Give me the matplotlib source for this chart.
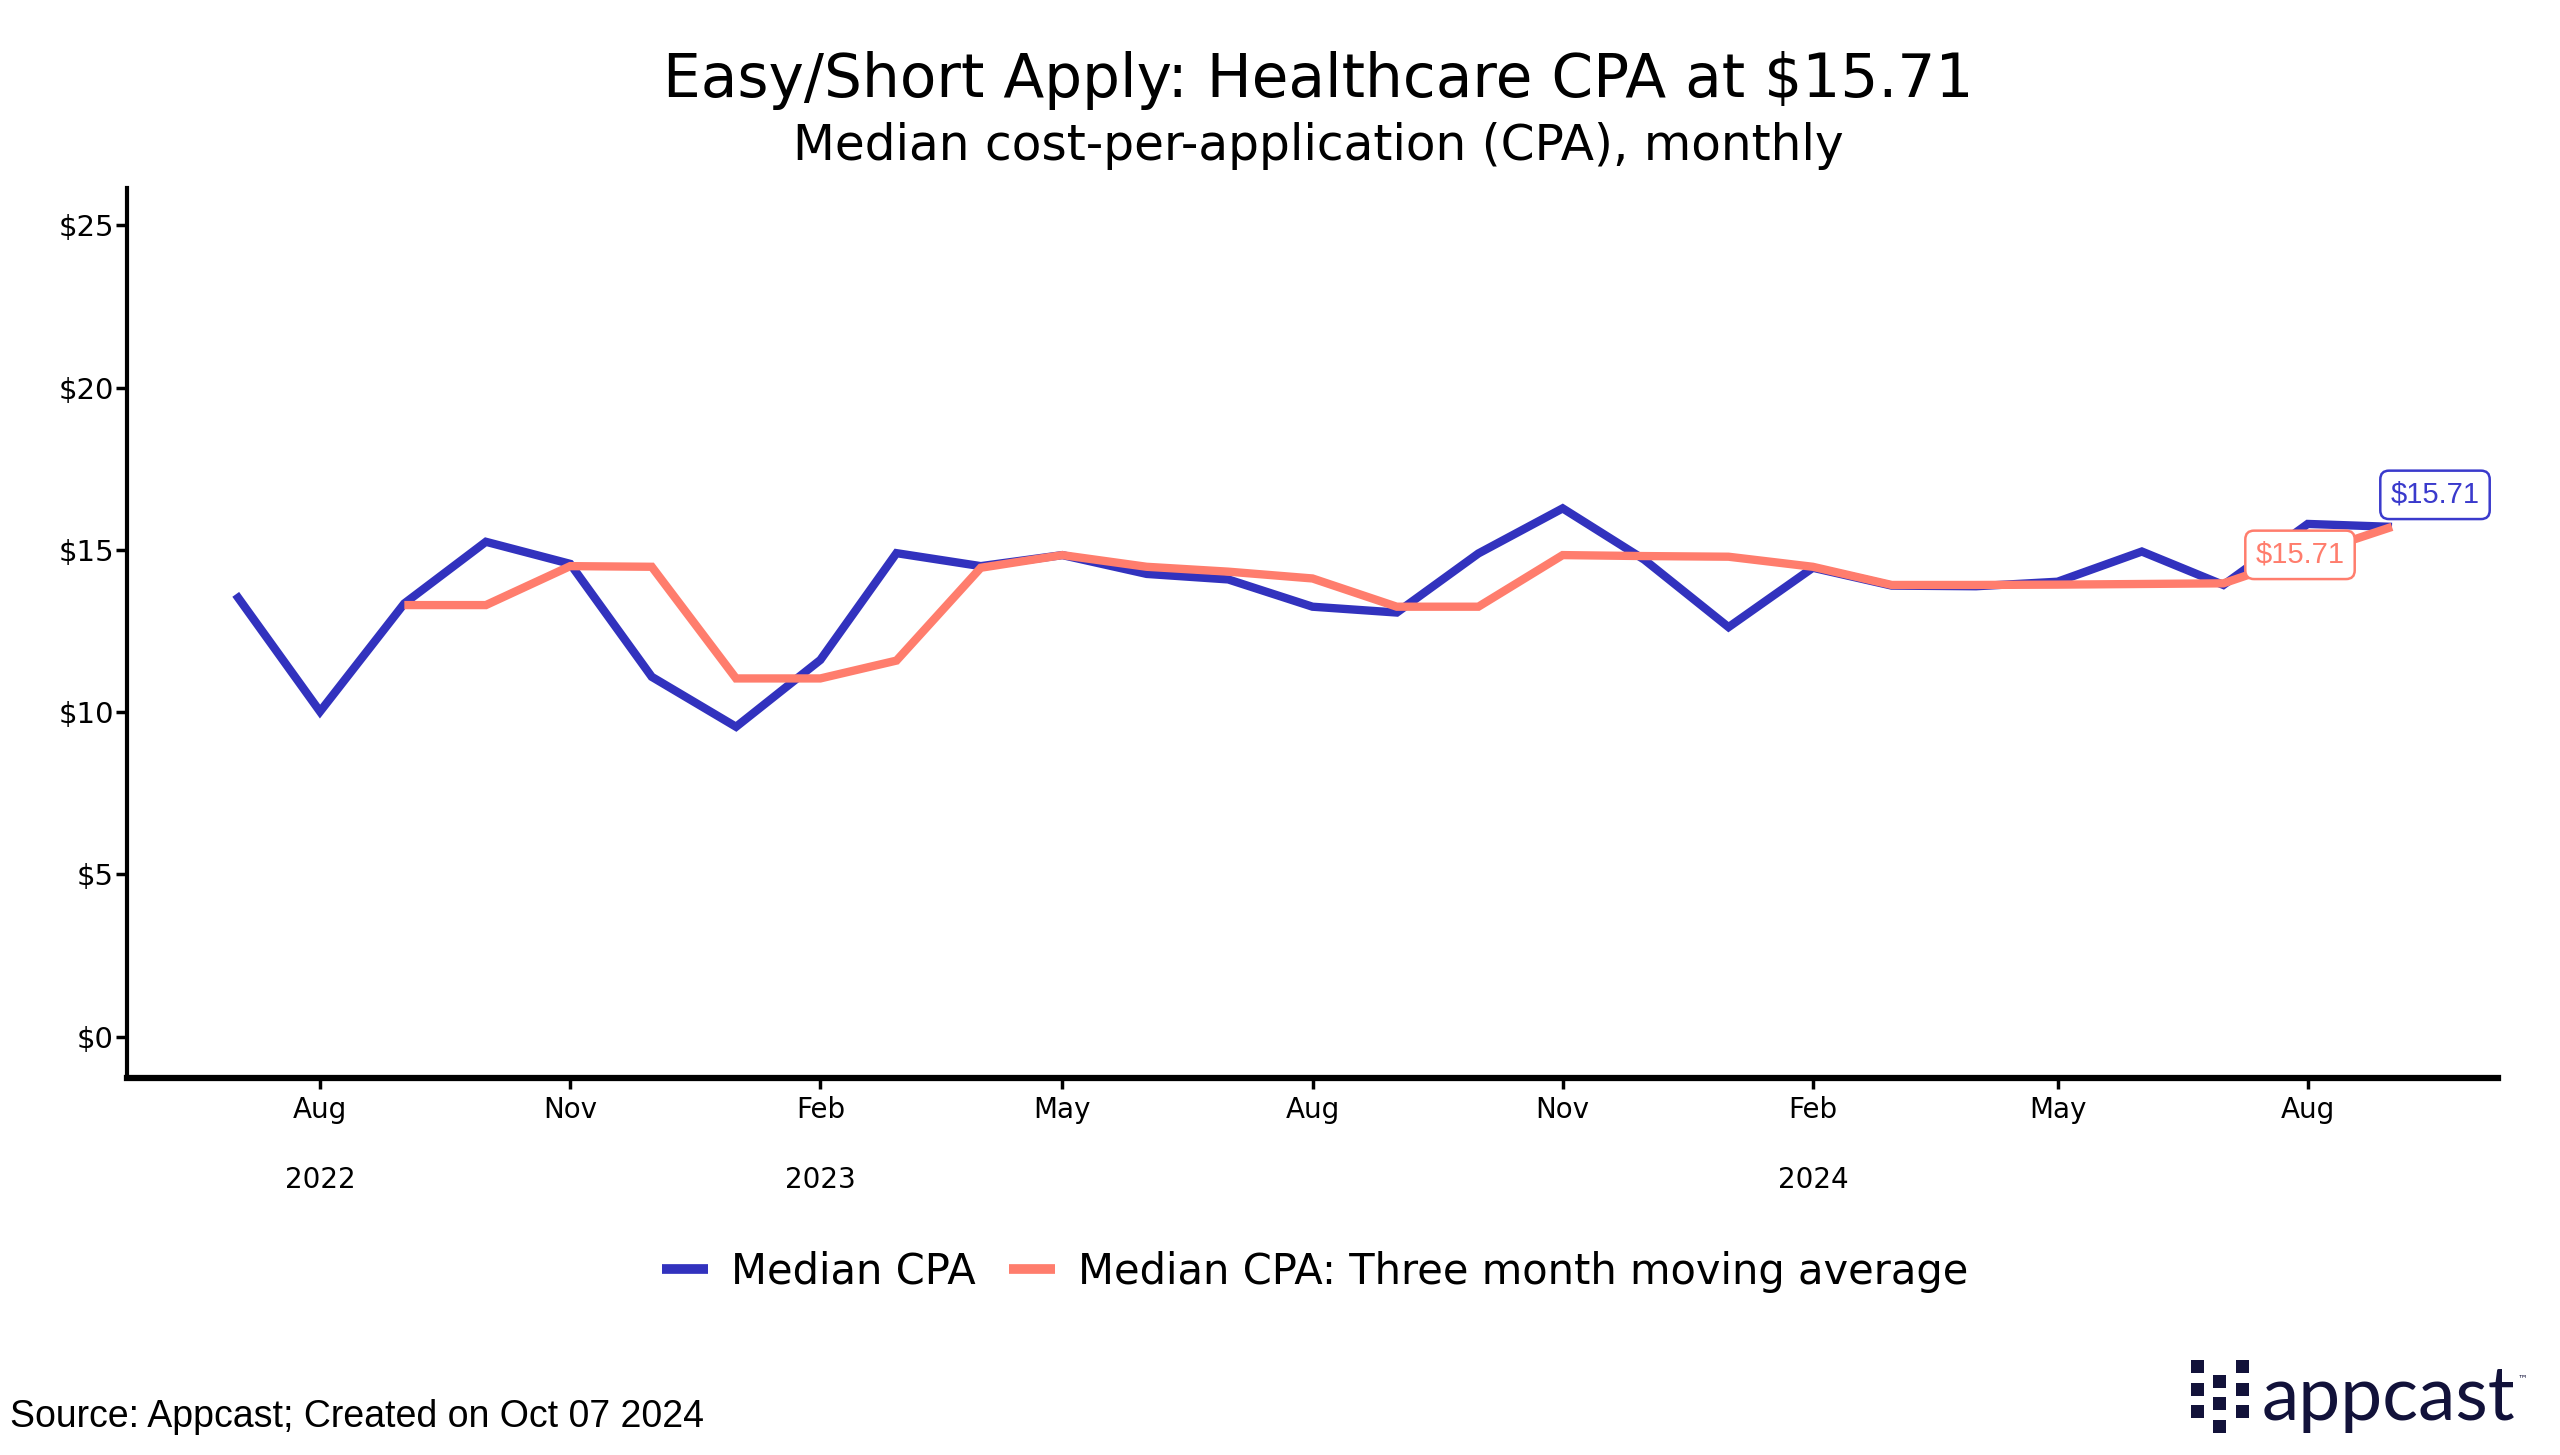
import matplotlib
matplotlib.use("Agg")
import matplotlib.pyplot as plt
import matplotlib.transforms as mtransforms
from matplotlib.patches import Rectangle
import pandas as pd

# ---------------- data ----------------
blue_months = pd.date_range("2022-07-01", "2024-09-01", freq="MS")
median_cpa = [13.63, 10.02, 13.35, 15.25, 14.57, 11.09, 9.55, 11.61, 14.90, 14.50,
              14.84, 14.26, 14.09, 13.25, 13.07, 14.89, 16.28, 14.70, 12.62, 14.45,
              13.90, 13.88, 14.02, 14.95, 13.92, 15.80, 15.71]
avg_months = pd.date_range("2022-09-01", "2024-09-01", freq="MS")
moving_avg = [13.30, 13.30, 14.50, 14.48, 11.04, 11.04, 11.59, 14.45, 14.84, 14.48,
              14.33, 14.12, 13.25, 13.25, 14.84, 14.81, 14.79, 14.48, 13.92, 13.92,
              13.93, 13.95, 13.97, 14.85, 15.71]
y_ticks = [0, 5, 10, 15, 20, 25]
y_tick_labels = ["$0", "$5", "$10", "$15", "$20", "$25"]
x_tick_dates = pd.date_range("2022-08-01", "2024-08-01", freq="3MS")
x_tick_labels = ["Aug", "Nov", "Feb", "May", "Aug", "Nov", "Feb", "May", "Aug"]
year_dates = pd.to_datetime(["2022-08-01", "2023-02-01", "2024-02-01"])
year_labels = ["2022", "2023", "2024"]
label_blue = "$15.71"
label_orange = "$15.71"

BLUE = "#3232BE"
ORANGE = "#FF7D6D"
NAVY = "#12123A"
FONT = ["DejaVu Sans"]

fig = plt.figure(figsize=(25.6, 14.55), dpi=100)
ax = fig.add_axes([0.0496, 0.2591, 0.9262, 0.6117])

ax.plot(blue_months, median_cpa, color=BLUE, lw=6, solid_joinstyle="miter",
        solid_capstyle="butt", label="Median CPA", zorder=2)
ax.plot(avg_months, moving_avg, color=ORANGE, lw=6, solid_joinstyle="miter",
        solid_capstyle="butt", label="Median CPA: Three month moving average", zorder=3)

ax.set_ylim(-1.27, 26.15)
ax.set_xlim(pd.Timestamp("2022-05-22"), pd.Timestamp("2024-10-10"))

ax.set_yticks(y_ticks)
ax.set_yticklabels(y_tick_labels, fontsize=21, family=FONT)
ax.set_xticks(x_tick_dates)
ax.set_xticklabels(x_tick_labels, fontsize=20, family=FONT)
ax.tick_params(axis="both", length=8, width=2.5, color="black")
ax.tick_params(axis="x", pad=5)
ax.tick_params(axis="y", pad=1.5)

for side in ["top", "right"]:
    ax.spines[side].set_visible(False)
ax.spines["left"].set_linewidth(3)
ax.spines["bottom"].set_linewidth(4.5)

# year labels under the month ticks
trans = mtransforms.blended_transform_factory(ax.transData, fig.transFigure)
for d, lab in zip(year_dates, year_labels):
    ax.text(d, 1 - 1180 / 1455, lab, transform=trans, ha="center", va="center",
            fontsize=20, family=FONT, clip_on=False)

# end labels
ax.annotate(label_blue, xy=(blue_months[-1], median_cpa[-1]), xytext=(43, 32),
            textcoords="offset pixels", ha="center", va="center", fontsize=21,
            family=["Liberation Sans"], color="#3A3ACC", zorder=5,
            bbox=dict(boxstyle="round,pad=0.35,rounding_size=0.3", fc="white",
                      ec="#3A3ACC", lw=1.8))
ax.annotate(label_orange, xy=(avg_months[-1], moving_avg[-1]), xytext=(-92, -28),
            textcoords="offset pixels", ha="center", va="center", fontsize=21,
            family=["Liberation Sans"], color=ORANGE, zorder=5,
            bbox=dict(boxstyle="round,pad=0.35,rounding_size=0.3", fc="white",
                      ec=ORANGE, lw=1.8))

# titles
fig.text(0.515, 0.945, "Easy/Short Apply: Healthcare CPA at $15.71", ha="center",
         va="center", fontsize=43, family=FONT, color="black")
fig.text(0.515, 0.900, "Median cost-per-application (CPA), monthly", ha="center",
         va="center", fontsize=35, family=FONT, color="black")

# legend
leg = fig.legend(loc="center", bbox_to_anchor=(0.5137, 0.1258), ncol=2, frameon=False,
                 prop={"family": FONT, "size": 30},
                 handlelength=1.1, handletextpad=0.55, columnspacing=0.8)
for line in leg.get_lines():
    line.set_linewidth(7)

# source
fig.text(0.004, 1 - 868 * 1.6327 / 1455, "Source: Appcast; Created on Oct 07 2024",
         ha="left", va="center", fontsize=27, family=["Liberation Sans"], color="black")

# appcast logo
fig.text(2262 / 2560, 1 - 1420 / 1455, "appcast", ha="left", va="baseline", fontsize=54,
         family=["Lato", "DejaVu Sans"], color=NAVY)
fig.text(2518 / 2560, 1 - 1378 / 1455, "\u2122", ha="left", va="center", fontsize=7,
         family=["DejaVu Sans"], color=NAVY)
W, H = 2560, 1455
def px_rect(x0, y0, w, h):
    fig.patches.append(Rectangle((x0 / W, 1 - (y0 + h) / H), w / W, h / H,
                                 transform=fig.transFigure, color=NAVY, lw=0))
for yy in [1360, 1383, 1405]:
    px_rect(2191, yy, 13, 13)
    px_rect(2236, yy, 13, 13)
for yy in [1375, 1397, 1420]:
    px_rect(2213, yy, 13, 13)

fig.savefig("out.png", dpi=100, facecolor="white")
